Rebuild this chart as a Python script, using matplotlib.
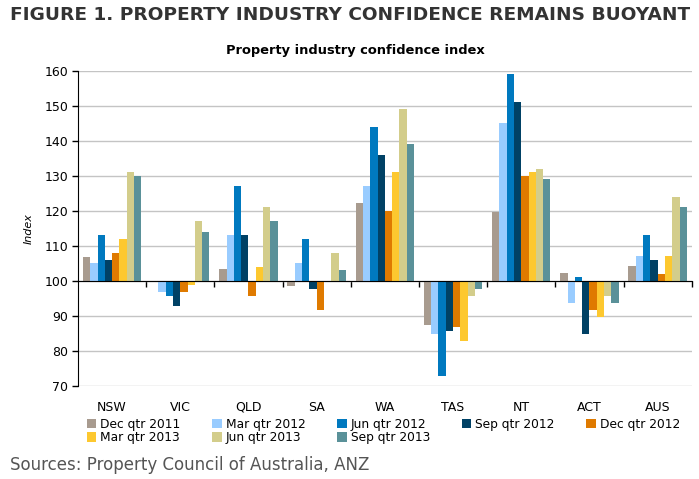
import matplotlib.pyplot as plt
import matplotlib.transforms as mtransforms
from matplotlib.patches import Patch
import numpy as np

states = ['NSW', 'VIC', 'QLD', 'SA', 'WA', 'TAS', 'NT', 'ACT', 'AUS']
quarters = ['Dec qtr 2011', 'Mar qtr 2012', 'Jun qtr 2012', 'Sep qtr 2012',
            'Dec qtr 2012', 'Mar qtr 2013', 'Jun qtr 2013', 'Sep qtr 2013']

dec11 = [106.9, 99.6, 103.4, 98.7, 122.3, 87.4, 119.7, 102.3, 104.3]
mar12 = [105.1, 97.0, 113.2, 105.1, 127.2, 84.8, 145.2, 93.7, 107.1]
jun12 = [113.2, 95.8, 127.2, 112.0, 144.0, 72.9, 159.2, 101.1, 113.2]
sep12 = [106.0, 92.9, 113.2, 97.8, 136.0, 85.8, 151.2, 84.8, 106.0]
dec12 = [108.0, 97.0, 95.8, 91.8, 120.0, 86.8, 130.0, 91.7, 102.0]
mar13 = [112.0, 99.0, 104.0, 100.0, 131.2, 82.8, 131.2, 89.7, 107.1]
jun13 = [131.2, 117.2, 121.2, 108.0, 149.2, 95.8, 132.0, 95.8, 124.0]
sep13 = [130.0, 114.0, 117.2, 103.1, 139.2, 97.7, 129.2, 93.7, 121.2]

series = [dec11, mar12, jun12, sep12, dec12, mar13, jun13, sep13]
colors = ['#a89b8f', '#99ccff', '#0079bf', '#004165',
          '#df7a00', '#fdc82f', '#d3cd8b', '#5a9199']

fig = plt.figure(figsize=(6.99, 4.79), dpi=100)
ax = fig.add_axes([0.1116, 0.194, 0.878, 0.658])

x = np.arange(len(states))
w = 0.107
for i, vals in enumerate(series):
    v = np.array(vals)
    ax.bar(x - 3.5 * w + i * w, v - 100, width=w, bottom=100,
           color=colors[i], linewidth=0, zorder=3)

ax.set_xlim(-0.5, len(states) - 0.5)
ax.set_ylim(70, 160)
ax.set_yticks(np.arange(70, 161, 10))
ax.yaxis.grid(True, color='#c4c4c4', linewidth=1)
ax.set_axisbelow(True)
ax.tick_params(axis='y', direction='out', length=4, width=1, labelsize=9,
               colors='black', pad=3)

for s in ['top', 'right']:
    ax.spines[s].set_visible(False)
ax.spines['bottom'].set_position(('data', 100))
ax.spines['bottom'].set_zorder(4)
ax.set_xticks(np.arange(0.5, len(states), 1.0))
ax.set_xticklabels([])
ax.tick_params(axis='x', direction='out', length=4, width=1)

# state names sit below the plot area, not at the 100 baseline
trans = mtransforms.blended_transform_factory(ax.transData, ax.transAxes)
for xi, name in zip(x, states):
    ax.text(xi, -0.078, name, transform=trans, ha='center', va='baseline',
            fontsize=9, color='black')

ax.set_ylabel('Index', fontsize=8, style='italic', labelpad=8)

fig.text(0.014, 0.968, 'FIGURE 1. PROPERTY INDUSTRY CONFIDENCE REMAINS BUOYANT',
         fontsize=13.3, fontweight='bold', color='#333333', va='center', ha='left')
fig.text(0.508, 0.895, 'Property industry confidence index', fontsize=9.4,
         fontweight='bold', ha='center', va='center')

# row-major order for a 5-column, 2-row legend
order = [0, 5, 1, 6, 2, 7, 3, 4]
handles = [Patch(facecolor=colors[k], edgecolor='none') for k in order]
labels = [quarters[k] for k in order]
fig.legend(handles, labels, ncol=5, loc='upper left',
           bbox_to_anchor=(0.124, 0.128), frameon=False, fontsize=8.8,
           handlelength=0.8, handleheight=0.8, handletextpad=0.3,
           columnspacing=2.6, labelspacing=0.05, borderaxespad=0,
           borderpad=0)

fig.text(0.014, 0.029, 'Sources: Property Council of Australia, ANZ',
         fontsize=12, color='#555555', ha='left', va='center')

fig.savefig('out.png', dpi=100)
